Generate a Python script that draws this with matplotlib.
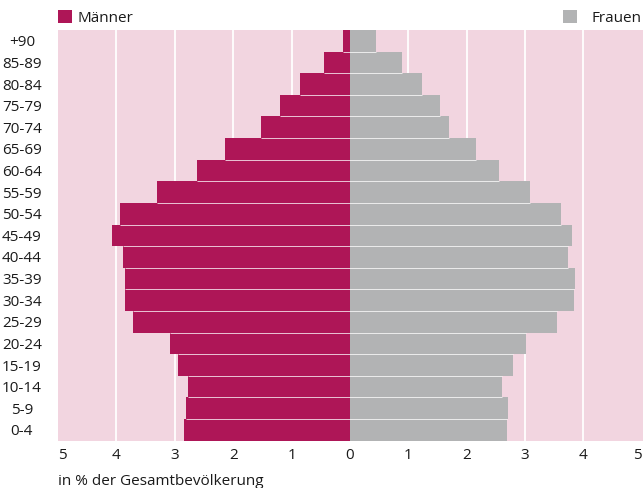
import matplotlib
matplotlib.use("Agg")
import matplotlib.pyplot as plt
from matplotlib.patches import Patch
import numpy as np

plt.rcParams['font.family'] = ['Open Sans', 'DejaVu Sans']

# Data (bottom to top)
age_groups = ["0-4", "5-9", "10-14", "15-19", "20-24", "25-29", "30-34", "35-39",
              "40-44", "45-49", "50-54", "55-59", "60-64", "65-69", "70-74",
              "75-79", "80-84", "85-89", "+90"]
maenner = [2.85, 2.81, 2.78, 2.95, 3.09, 3.71, 3.85, 3.86, 3.88, 4.07, 3.93,
           3.30, 2.62, 2.14, 1.53, 1.20, 0.86, 0.45, 0.12]
frauen = [2.69, 2.71, 2.61, 2.80, 3.02, 3.54, 3.83, 3.85, 3.74, 3.81, 3.62,
          3.09, 2.56, 2.16, 1.70, 1.54, 1.24, 0.89, 0.45]
xticks = [-5, -4, -3, -2, -1, 0, 1, 2, 3, 4, 5]
xticklabels = ["5", "4", "3", "2", "1", "0", "1", "2", "3", "4", "5"]

C_M = "#ae1657"
C_F = "#b2b3b4"
C_BG = "#f2d5e0"
C_TXT = "#1a1a1a"
FS = 11

W, H = 6.43, 4.88
fig = plt.figure(figsize=(W, H), dpi=100)
ax_h = (440.7 - 30) / 488
ax = fig.add_axes([58 / 643, (488 - 440.7) / 488, (643 - 58) / 643, ax_h])
ax.set_facecolor(C_BG)

y = np.arange(len(age_groups))
m = np.array(maenner)
f = np.array(frauen)

for g in [-4, -3, -2, -1, 1, 2, 3, 4]:
    ax.axvline(g, color="white", lw=1.3, zorder=1)

ax.barh(y, -m, height=1.0, color=C_M, zorder=2, linewidth=0)
ax.barh(y, f, height=1.0, color=C_F, zorder=2, linewidth=0)

# thin seams between adjacent bars
for i in range(len(y) - 1):
    left = -min(m[i], m[i + 1])
    right = min(f[i], f[i + 1])
    ax.hlines(i + 0.5, left, right, color="white", lw=0.7, alpha=0.75, zorder=3)

ax.set_xlim(-4.98, 5.02)
ax.set_ylim(-0.5, len(y) - 0.5)
ax.set_xticks(xticks)
ax.set_xticklabels(xticklabels)
xl = ax.get_xticklabels()
xl[0].set_horizontalalignment("left")
xl[-1].set_horizontalalignment("right")
ax.set_yticks(y)
ax.set_yticklabels(age_groups, ha="center")
ax.tick_params(axis="y", length=0, pad=26, labelsize=FS, labelcolor=C_TXT)
ax.tick_params(axis="x", length=0, pad=5, labelsize=FS, labelcolor=C_TXT)
for s in ax.spines.values():
    s.set_visible(False)

ax.set_xlabel("in % der Gesamtbevölkerung", loc="left", fontsize=FS,
              color=C_TXT, labelpad=8)

sq = 0.9
yoff = 1.0 + 4.5 / (ax_h * 488)
leg1 = ax.legend(handles=[Patch(facecolor=C_M, edgecolor="none", label="Männer")],
                 loc="lower left", bbox_to_anchor=(0, yoff), frameon=False,
                 borderpad=0, borderaxespad=0, handlelength=sq, handleheight=sq,
                 handletextpad=0.4, fontsize=FS, labelcolor=C_TXT)
ax.add_artist(leg1)
ax.legend(handles=[Patch(facecolor=C_F, edgecolor="none", label="Frauen")],
          loc="lower right", bbox_to_anchor=(0.997, yoff), frameon=False,
          borderpad=0, borderaxespad=0, handlelength=sq, handleheight=sq,
          handletextpad=0.95, fontsize=FS, labelcolor=C_TXT)

fig.savefig("out.png", dpi=100)
